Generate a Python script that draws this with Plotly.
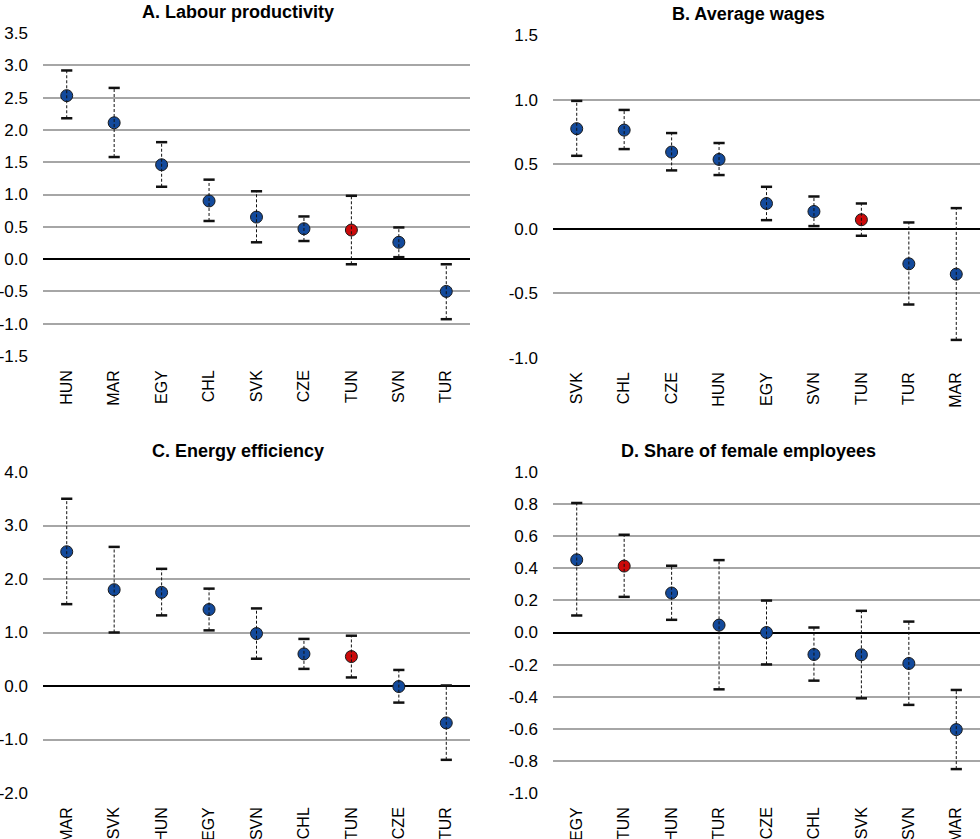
import plotly.graph_objects as go

# ---------------- data ----------------
a_title = "A. Labour productivity"
a_cats = ["HUN", "MAR", "EGY", "CHL", "SVK", "CZE", "TUN", "SVN", "TUR"]
a_vals = [2.53, 2.11, 1.46, 0.90, 0.65, 0.47, 0.45, 0.26, -0.50]
a_low = [2.18, 1.58, 1.12, 0.59, 0.26, 0.28, -0.08, 0.03, -0.93]
a_high = [2.92, 2.65, 1.81, 1.23, 1.05, 0.66, 0.98, 0.49, -0.08]
a_ticks = [-1.5, -1.0, -0.5, 0.0, 0.5, 1.0, 1.5, 2.0, 2.5, 3.0, 3.5]

b_title = "B. Average wages"
b_cats = ["SVK", "CHL", "CZE", "HUN", "EGY", "SVN", "TUN", "TUR", "MAR"]
b_vals = [0.775, 0.764, 0.594, 0.537, 0.196, 0.134, 0.07, -0.271, -0.351]
b_low = [0.565, 0.617, 0.452, 0.416, 0.067, 0.021, -0.054, -0.586, -0.86]
b_high = [0.99, 0.92, 0.741, 0.664, 0.325, 0.25, 0.196, 0.049, 0.16]
b_ticks = [-1.0, -0.5, 0.0, 0.5, 1.0, 1.5]

c_title = "C. Energy efficiency"
c_cats = ["MAR", "SVK", "HUN", "EGY", "SVN", "CHL", "TUN", "CZE", "TUR"]
c_vals = [2.51, 1.80, 1.75, 1.43, 0.98, 0.60, 0.55, -0.01, -0.69]
c_low = [1.53, 1.00, 1.32, 1.04, 0.51, 0.32, 0.16, -0.31, -1.38]
c_high = [3.50, 2.60, 2.19, 1.82, 1.45, 0.88, 0.94, 0.30, 0.01]
c_ticks = [-2.0, -1.0, 0.0, 1.0, 2.0, 3.0, 4.0]

d_title = "D. Share of female employees"
d_cats = ["EGY", "TUN", "HUN", "TUR", "CZE", "CHL", "SVK", "SVN", "MAR"]
d_vals = [0.453, 0.414, 0.246, 0.046, 0.0, -0.137, -0.139, -0.193, -0.605]
d_low = [0.106, 0.222, 0.079, -0.354, -0.199, -0.300, -0.41, -0.451, -0.851]
d_high = [0.807, 0.609, 0.416, 0.451, 0.199, 0.031, 0.135, 0.068, -0.358]
d_ticks = [-1.0, -0.8, -0.6, -0.4, -0.2, 0.0, 0.2, 0.4, 0.6, 0.8, 1.0]

highlight = "TUN"
# --------------------------------------

BLUE = "#134a9c"
RED = "#cc0a0a"
FONT = "Liberation Sans Narrow, Arial Narrow, Liberation Sans, Arial, sans-serif"

W, H = 980, 839
def px_x(p):
    return p / W
def px_y(p):
    return 1 - p / H

panels = [
    (a_title, a_cats, a_vals, a_low, a_high, a_ticks, (43, 470), (33, 356), 238),
    (b_title, b_cats, b_vals, b_low, b_high, b_ticks, (553, 980), (35, 358), 748),
    (c_title, c_cats, c_vals, c_low, c_high, c_ticks, (43, 470), (472, 793), 238),
    (d_title, d_cats, d_vals, d_low, d_high, d_ticks, (553, 980), (472, 793), 748),
]

fig = go.Figure()
layout = {}
annotations = []
for i, (title, cats, vals, low, high, ticks, xd, yd, tx) in enumerate(panels):
    n = i + 1
    xa = "x" if n == 1 else f"x{n}"
    ya = "y" if n == 1 else f"y{n}"
    colors = [RED if c == highlight else BLUE for c in cats]

    # markers
    fig.add_trace(go.Scatter(
        x=cats, y=vals, mode="markers", xaxis=xa, yaxis=ya, showlegend=False,
        marker=dict(size=12, color=colors, line=dict(color="#1a1a1a", width=1)),
        hoverinfo="x+y",
    ))
    # dashed whiskers
    lx, ly = [], []
    for c, lo, hi in zip(cats, low, high):
        lx += [c, c, None]
        ly += [lo, hi, None]
    fig.add_trace(go.Scatter(
        x=lx, y=ly, mode="lines", xaxis=xa, yaxis=ya, showlegend=False,
        line=dict(color="#111111", width=1, dash="3px,2px"), hoverinfo="skip",
    ))
    # caps
    fig.add_trace(go.Scatter(
        x=cats + cats, y=low + high, mode="markers", xaxis=xa, yaxis=ya,
        showlegend=False, hoverinfo="skip",
        marker=dict(symbol="line-ew", size=8, line=dict(color="#111111", width=2.5)),
    ))

    xname = "xaxis" if n == 1 else f"xaxis{n}"
    yname = "yaxis" if n == 1 else f"yaxis{n}"
    layout[xname] = dict(
        domain=[px_x(xd[0]), px_x(xd[1])], anchor=ya, type="category",
        categoryorder="array", categoryarray=cats, range=[-0.5, len(cats) - 0.5],
        tickangle=-90, showgrid=False, showline=False, zeroline=False,
        ticks="", ticklabelstandoff=10, automargin=False,
        tickfont=dict(family=FONT, size=16, color="#000"),
    )
    layout[yname] = dict(
        domain=[px_y(yd[1]), px_y(yd[0])], anchor=xa,
        range=[ticks[0], ticks[-1]], tickvals=ticks,
        ticktext=[f"{t:.1f}" for t in ticks],
        showgrid=True, gridcolor="#a6a6a6", gridwidth=2,
        zeroline=True, zerolinecolor="#000", zerolinewidth=1.5,
        showline=False, ticks="", ticklabelstandoff=14, automargin=False,
        tickfont=dict(family=FONT, size=17, color="#000"),
    )
    annotations.append(dict(
        text=f"<b>{title}</b>", xref="paper", yref="paper",
        x=px_x(tx), y=px_y(yd[0] - 21), xanchor="center", yanchor="middle",
        showarrow=False, font=dict(family=FONT, size=18, color="#000"),
    ))

fig.update_layout(
    width=W, height=H, margin=dict(l=0, r=0, t=0, b=0),
    paper_bgcolor="white", plot_bgcolor="white",
    annotations=annotations, **layout,
)
fig.write_html(
    "out.html",
    config={"displayModeBar": False},
    post_script="document.body.style.margin='0';document.body.style.overflow='hidden';",
)
